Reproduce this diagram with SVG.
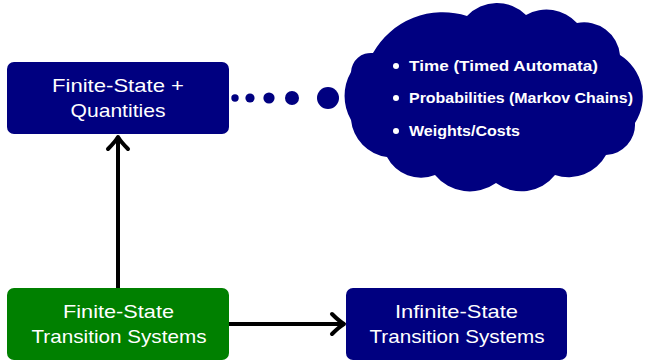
<svg xmlns="http://www.w3.org/2000/svg" width="646" height="361" viewBox="0 0 646 361">
<defs>
<style>
.node{stroke:none}
.navy{fill:#000080}
.green{fill:#008000}
.lbl{font-family:"Liberation Sans",Arial,sans-serif;font-size:19px;fill:#ffffff;text-anchor:middle}
.bul{font-family:"Liberation Sans",Arial,sans-serif;font-size:15.5px;font-weight:bold;fill:#ffffff}
.edge{stroke:#000;stroke-width:4;fill:none}
.head{stroke:#000;stroke-width:4;fill:none;stroke-linecap:round;stroke-linejoin:round}
</style>
</defs>
<rect width="646" height="361" fill="#ffffff"/>
<g id="quant">
<rect class="node navy" x="7" y="62" width="222" height="72" rx="7"/>
<text class="lbl" x="118" y="92" textLength="132" lengthAdjust="spacingAndGlyphs">Finite-State +</text>
<text class="lbl" x="118" y="117" textLength="95" lengthAdjust="spacingAndGlyphs">Quantities</text>
</g>
<g id="finite">
<rect class="node green" x="7" y="288" width="222" height="72" rx="7"/>
<text class="lbl" x="118.5" y="318" textLength="111" lengthAdjust="spacingAndGlyphs">Finite-State</text>
<text class="lbl" x="119" y="342.5" textLength="175" lengthAdjust="spacingAndGlyphs">Transition Systems</text>
</g>
<g id="infinite">
<rect class="node navy" x="346" y="288" width="221" height="72" rx="7"/>
<text class="lbl" x="456.5" y="318" textLength="123" lengthAdjust="spacingAndGlyphs">Infinite-State</text>
<text class="lbl" x="457" y="342.5" textLength="175" lengthAdjust="spacingAndGlyphs">Transition Systems</text>
</g>
<g id="cloud">
<path class="navy" d="M373,53 A80,80 0 0 1 467,16 A41,41 0 0 1 526,15 A41.5,41.5 0 0 1 577,23 A36,36 0 0 1 620,55 A49,49 0 0 1 635,123 A30.4,30.4 0 0 1 606,155 A42.5,42.5 0 0 1 555,175 A42.8,42.8 0 0 1 496,183 A45,45 0 0 1 435,175 A38,38 0 0 1 387,157 A41.5,41.5 0 0 1 351,120 A48,48 0 0 1 351,72 A20,20 0 0 1 373,53 Z"/>
<circle cx="396" cy="66" r="3" fill="#fff"/>
<circle cx="396" cy="98" r="3" fill="#fff"/>
<circle cx="396" cy="131" r="3" fill="#fff"/>
<text class="bul" x="409" y="71" textLength="189" lengthAdjust="spacingAndGlyphs">Time (Timed Automata)</text>
<text class="bul" x="409" y="103" textLength="224" lengthAdjust="spacingAndGlyphs">Probabilities (Markov Chains)</text>
<text class="bul" x="409" y="136" textLength="111" lengthAdjust="spacingAndGlyphs">Weights/Costs</text>
</g>
<g id="connectors">
<g class="navy">
<circle cx="235" cy="98" r="3.7"/>
<circle cx="250" cy="98" r="4.6"/>
<circle cx="269" cy="98" r="5.6"/>
<circle cx="292" cy="98" r="7"/>
<circle cx="328" cy="98" r="11"/>
</g>
<path class="edge" d="M118 288 V138"/>
<path class="head" d="M108 149 Q115 142 118 137 Q121 142 128 149"/>
<path class="edge" d="M229 324 H343"/>
<path class="head" d="M332 314 Q339 321 344 324 Q339 327 332 334"/>
</g>
</svg>
